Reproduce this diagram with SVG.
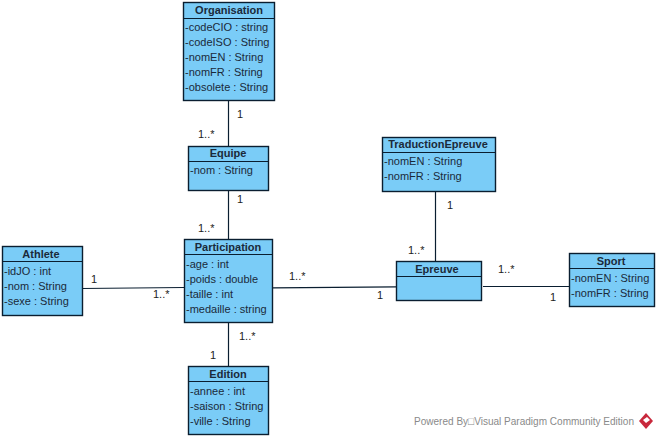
<svg xmlns="http://www.w3.org/2000/svg" width="658" height="438" viewBox="0 0 658 438">
<style>
.b{fill:#7accf7;stroke:#0a1e30;stroke-width:1.4}
.l{stroke:#0a1e30;stroke-width:1.2;fill:none}
text{font-family:"Liberation Sans",Arial,sans-serif;font-size:11px;fill:#1a2a3a}
.t{font-weight:bold;text-anchor:middle}
.m{fill:#222}
</style>
<rect width="658" height="438" fill="#fff"/>
<g id="connectors">
<path class="l" d="M228.500 100V146"/>
<path class="l" d="M228.500 191V239"/>
<path class="l" d="M82 288.500L184 287.500"/>
<path class="l" d="M228.500 323V366"/>
<path class="l" d="M273 287.800L396 286.800"/>
<path class="l" d="M435.500 192V262"/>
<path class="l" d="M483 286.500H569"/>
</g>
<g id="labels">
<text class="m" x="237" y="118">1</text>
<text class="m" x="198" y="138">1..*</text>
<text class="m" x="237" y="203">1</text>
<text class="m" x="198" y="232">1..*</text>
<text class="m" x="91" y="283">1</text>
<text class="m" x="153" y="298">1..*</text>
<text class="m" x="289" y="280">1..*</text>
<text class="m" x="377" y="299">1</text>
<text class="m" x="239" y="340">1..*</text>
<text class="m" x="210" y="359">1</text>
<text class="m" x="447" y="209">1</text>
<text class="m" x="408" y="254">1..*</text>
<text class="m" x="498" y="273">1..*</text>
<text class="m" x="550" y="301">1</text>
</g>
<g id="Organisation">
<rect class="b" x="183.500" y="2.500" width="91" height="98"/>
<path class="l" d="M183.500 18.500H274.500"/>
<text class="t" x="229" y="14">Organisation</text>
<text x="185" y="31">-codeCIO : string</text>
<text x="185" y="46">-codeISO : String</text>
<text x="185" y="61">-nomEN : String</text>
<text x="185" y="76">-nomFR : String</text>
<text x="185" y="91">-obsolete : String</text>
</g>
<g id="Equipe">
<rect class="b" x="188.500" y="146.500" width="80" height="44"/>
<path class="l" d="M188.500 161.500H268.500"/>
<text class="t" x="228" y="157">Equipe</text>
<text x="190" y="174">-nom : String</text>
</g>
<g id="Participation">
<rect class="b" x="184.500" y="239.500" width="88" height="83"/>
<path class="l" d="M184.500 254.500H272.500"/>
<text class="t" x="228" y="251">Participation</text>
<text x="186" y="268">-age : int</text>
<text x="186" y="283">-poids : double</text>
<text x="186" y="298">-taille : int</text>
<text x="186" y="313">-medaille : string</text>
</g>
<g id="Athlete">
<rect class="b" x="2.500" y="246.500" width="80" height="69"/>
<path class="l" d="M2.500 261.500H82.500"/>
<text class="t" x="41" y="258">Athlete</text>
<text x="4" y="275">-idJO : int</text>
<text x="4" y="290">-nom : String</text>
<text x="4" y="305">-sexe : String</text>
</g>
<g id="Edition">
<rect class="b" x="188.500" y="366.500" width="80" height="68"/>
<path class="l" d="M188.500 381.500H268.500"/>
<text class="t" x="228" y="378">Edition</text>
<text x="190" y="395">-annee : int</text>
<text x="190" y="410">-saison : String</text>
<text x="190" y="425">-ville : String</text>
</g>
<g id="TraductionEpreuve">
<rect class="b" x="382.500" y="137.500" width="113" height="54"/>
<path class="l" d="M382.500 152.500H495.500"/>
<text class="t" x="438" y="148">TraductionEpreuve</text>
<text x="384" y="165">-nomEN : String</text>
<text x="384" y="180">-nomFR : String</text>
</g>
<g id="Epreuve">
<rect class="b" x="396.500" y="261.500" width="85" height="39"/>
<path class="l" d="M396.500 276.500H481.500"/>
<text class="t" x="437" y="273">Epreuve</text>
</g>
<g id="Sport">
<rect class="b" x="569.500" y="253.500" width="85" height="53"/>
<path class="l" d="M569.500 268.500H654.500"/>
<text class="t" x="611" y="265">Sport</text>
<text x="571" y="282">-nomEN : String</text>
<text x="571" y="297">-nomFR : String</text>
</g>
<g id="watermark">
<text x="414" y="425" textLength="220" lengthAdjust="spacingAndGlyphs" style="fill:#8a8a8a">Powered By□Visual Paradigm Community Edition</text>
<path d="M646 413L653 421L646 429L639 421Z" fill="#c8283c"/>
<path d="M643 420L647 417L650 420L646 423Z" fill="#fff"/>
</g>
</svg>
